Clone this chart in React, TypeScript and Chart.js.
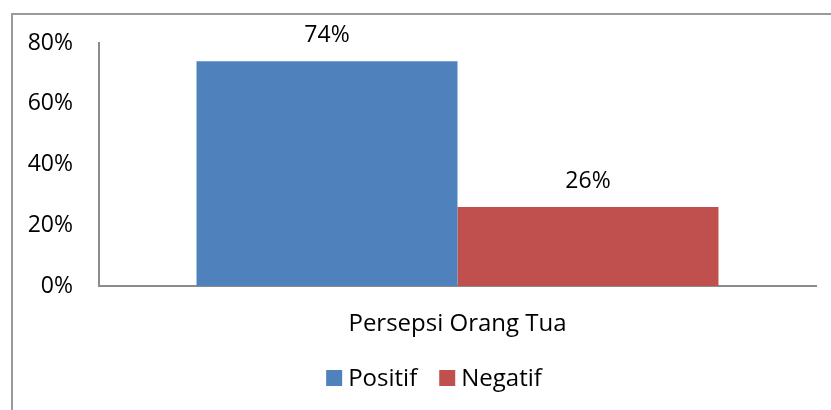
import React, { useEffect, useRef } from "react";
import { Chart, registerables } from "chart.js";

Chart.register(...registerables);

const categories = ["Persepsi Orang Tua"];
const seriesNames = ["Positif", "Negatif"];
const positifValues = [74];
const negatifValues = [26];
const yTicks = [0, 20, 40, 60, 80];

const FONT = "'Open Sans', sans-serif";
const NUM_SIZE = 23;
const TEXT_SIZE = 24;

const valueLabels = {
  id: "valueLabels",
  afterDatasetsDraw(chart: any) {
    const ctx = chart.ctx;
    ctx.save();
    ctx.font = `${NUM_SIZE}px ${FONT}`;
    ctx.fillStyle = "#000";
    ctx.textAlign = "center";
    ctx.textBaseline = "middle";
    chart.data.datasets.forEach((ds: any, i: number) => {
      const meta = chart.getDatasetMeta(i);
      meta.data.forEach((bar: any, j: number) => {
        ctx.fillText(`${ds.data[j]}%`, bar.x, bar.y - 26);
      });
    });
    ctx.restore();
  },
};

const customLegend = {
  id: "customLegend",
  afterDraw(chart: any) {
    const ctx = chart.ctx;
    ctx.save();
    ctx.font = `${TEXT_SIZE}px ${FONT}`;
    ctx.textBaseline = "middle";
    ctx.textAlign = "left";
    const box = 16;
    const gapBoxText = 6;
    const gapItems = 22;
    const items = chart.data.datasets.map((ds: any) => ({
      label: ds.label,
      color: ds.backgroundColor,
      w: box + gapBoxText + ctx.measureText(ds.label).width,
    }));
    const total = items.reduce((s: number, it: any) => s + it.w, 0) + gapItems * (items.length - 1);
    const centerX = 434;
    let x = centerX - total / 2;
    const y = 378;
    items.forEach((it: any) => {
      ctx.fillStyle = it.color;
      ctx.fillRect(x, y - box / 2, box, box);
      ctx.fillStyle = "#000";
      ctx.fillText(it.label, x + box + gapBoxText, y + 1);
      x += it.w + gapItems;
    });
    ctx.restore();
  },
};

export default function App() {
  const ref = useRef<HTMLCanvasElement>(null);
  useEffect(() => {
    if (!ref.current) return;
    const chart = new Chart(ref.current, {
      type: "bar",
      data: {
        labels: categories,
        datasets: [
          { label: seriesNames[0], data: positifValues, backgroundColor: "#4F81BD" },
          { label: seriesNames[1], data: negatifValues, backgroundColor: "#C0504D" },
        ],
      },
      options: {
        animation: false,
        responsive: false,
        layout: { padding: { top: 43, right: 15, left: 0, bottom: 0 } },
        datasets: { bar: { categoryPercentage: 0.728, barPercentage: 1 } },
        scales: {
          x: {
            grid: { display: false, drawTicks: false },
            border: { display: true, color: "#8c8c8c", width: 2 },
            ticks: { color: "#000", font: { family: FONT, size: TEXT_SIZE }, padding: 24 },
            afterFit(scale: any) {
              scale.height = 124;
            },
          },
          y: {
            min: 0,
            max: 80,
            afterBuildTicks(scale: any) {
              scale.ticks = yTicks.map((v) => ({ value: v }));
            },
            grid: { display: false, drawTicks: false },
            border: { display: true, color: "#8c8c8c", width: 2 },
            ticks: {
              color: "#000",
              font: { family: FONT, size: NUM_SIZE },
              padding: 26,
              callback: (v: any) => `${v}%`,
            },
            afterFit(scale: any) {
              scale.width = 99;
            },
          },
        },
        plugins: {
          legend: { display: false },
          tooltip: { enabled: false },
        },
      },
      plugins: [valueLabels, customLegend],
    });
    return () => chart.destroy();
  }, []);
  return (
    <div style={{ position: "fixed", left: 0, top: 0, width: 831, height: 410, background: "#fff", overflow: "hidden" }}>
      <div
        style={{
          position: "absolute",
          left: 11,
          top: 13,
          width: 900,
          height: 500,
          border: "2px solid #9a9a9a",
          boxSizing: "border-box",
        }}
      />
      <canvas ref={ref} width={831} height={410} style={{ position: "absolute", left: 0, top: 0 }} />
    </div>
  );
}
